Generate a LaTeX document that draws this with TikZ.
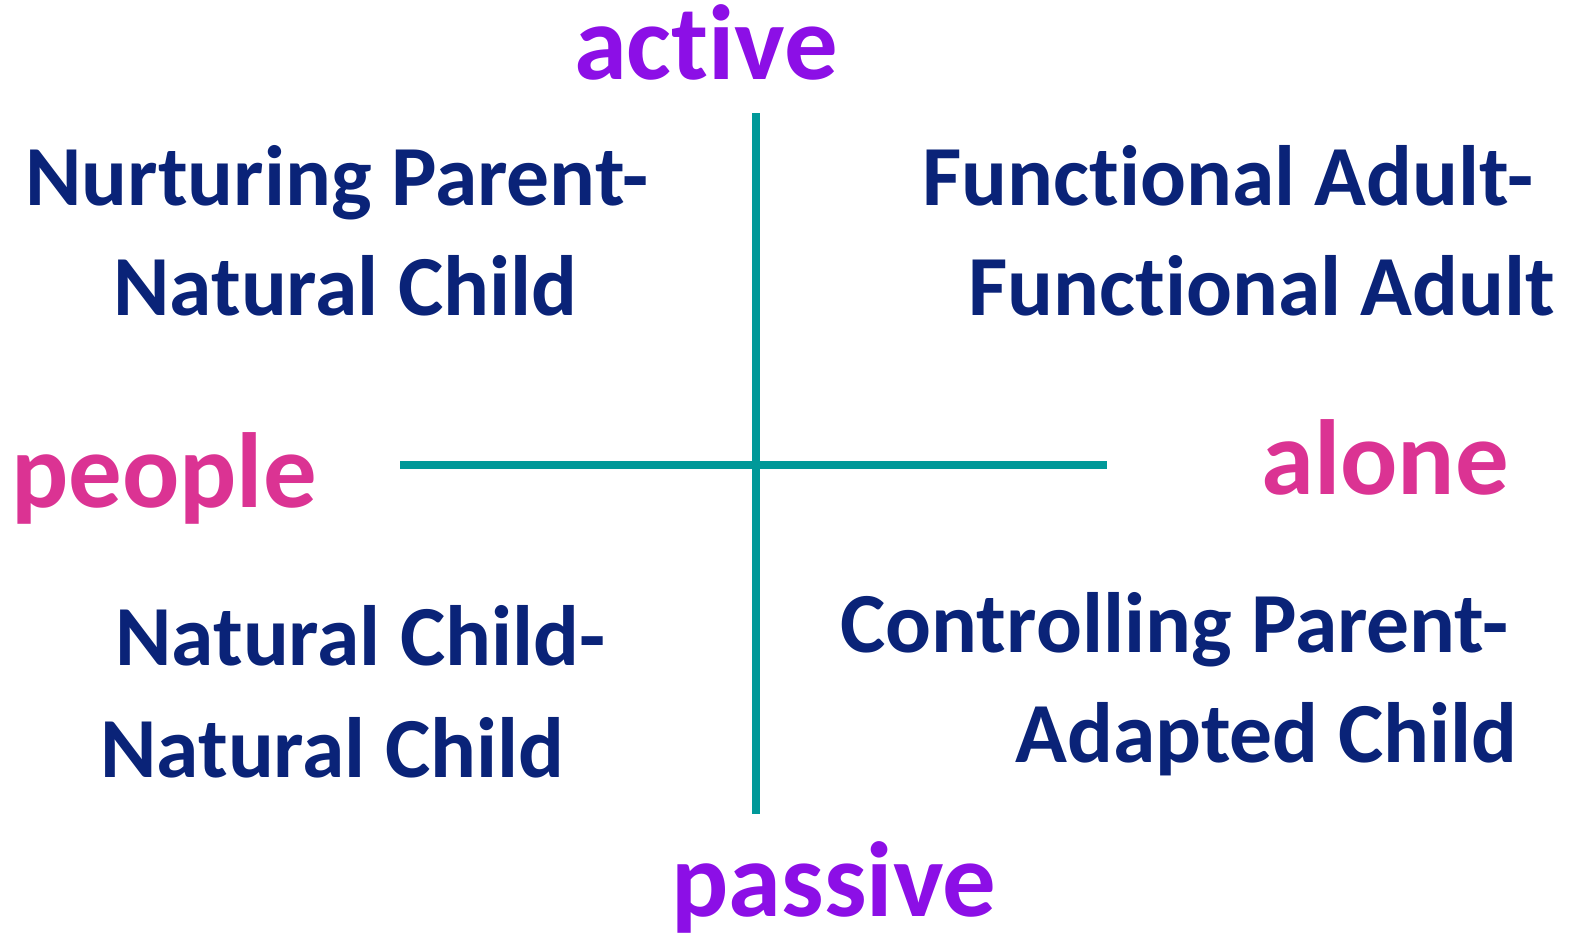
\documentclass[tikz,border=0pt]{standalone}
\usepackage{fontspec}
\setmainfont{Carlito}[Ligatures=NoCommon]
\usepackage{xcolor}
\definecolor{axisteal}{HTML}{009999}
\definecolor{txtnavy}{HTML}{0A2378}
\definecolor{txtpurple}{HTML}{8C0FE6}
\definecolor{txtpink}{HTML}{DB3393}

\begin{document}
\begin{tikzpicture}[x=0.5pt,y=-0.5pt,
	pole/.style={inner sep=0pt,anchor=base,font=\fontsize{53.4}{64}\selectfont\bfseries},
	quad/.style={inner sep=0pt,anchor=base west,text=txtnavy,font=\fontsize{42.8}{51}\selectfont\bfseries}]
\useasboundingbox(0,0)rectangle(1573,942);
\coordinate(top)at(756,113);\coordinate(bot)at(756,814);
\coordinate(lft)at(400,465);\coordinate(rgt)at(1107,465);
\draw[axisteal,line width=4pt](top)--(bot)(lft)--(rgt);
\node[pole,text=txtpurple](active)at(706,79){active};
\node[pole,text=txtpurple](passive)at(834,916){passive};
\node[pole,text=txtpink](people)at(164,507){people};
\node[pole,text=txtpink](alone)at(1385,494){alone};
\node[quad](npnc1)at(25,205){Nurturing Parent-};
\node[quad](npnc2)at(113,315){Natural Child};
\node[quad](fafa1)at(922,205){Functional Adult-};
\node[quad](fafa2)at(968,315){Functional Adult};
\node[quad](ncnc1)at(115,665){Natural Child-};
\node[quad](ncnc2)at(100,777){Natural Child};
\node[quad](cpac1)at(840,652){Controlling Parent-};
\node[quad](cpac2)at(1015,762){Adapted Child};
\end{tikzpicture}
\end{document}
